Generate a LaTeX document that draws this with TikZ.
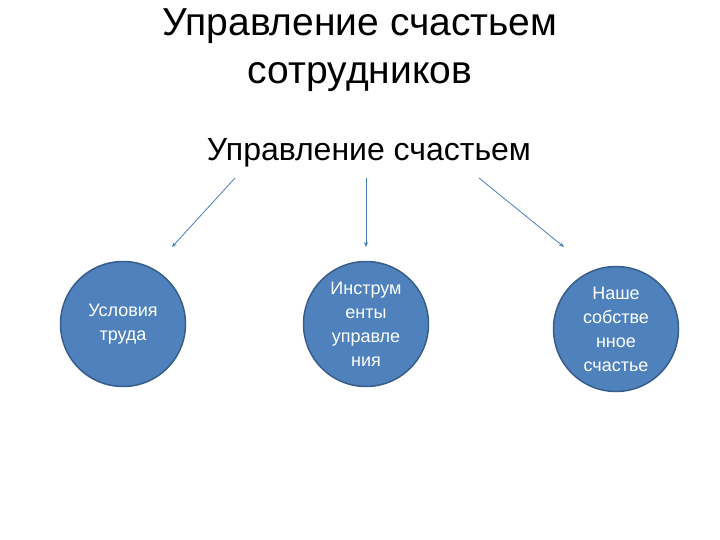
\documentclass[tikz,border=0pt]{standalone}
\usepackage{fontspec}
\setmainfont{Liberation Sans}
\usetikzlibrary{arrows.meta}

\definecolor{topicfill}{HTML}{4F81BD}
\definecolor{topicline}{HTML}{385D8A}
\definecolor{linkblue}{HTML}{4A7EBB}

\begin{document}
\begin{tikzpicture}[x=1pt,y=-1pt]
\useasboundingbox (0,0) rectangle (720,540);
\node (title) at (360,50) [align=center,font=\fontsize{39}{48}\selectfont]
    {Управление счастьем\\сотрудников};
\node (sub) at (369,153) [font=\fontsize{32}{38}\selectfont] {Управление счастьем};
\begin{scope}[every node/.style={circle,draw=topicline,fill=topicfill,line width=1.5pt,
              minimum size=125pt,inner sep=0pt,text=white,align=center,
              font=\fontsize{18}{24}\selectfont}]
    \node (t1) at (123,324) {Условия\\труда};
    \node (t2) at (366,324) {Инструм\\енты\\управле\\ния};
    \node (t3) at (616,329) {Наше\\собстве\\нное\\счастье};
\end{scope}
\coordinate (a1) at (235,178);
\coordinate (b1) at (172,247);
\coordinate (a2) at (366,178);
\coordinate (b2) at (366,247);
\coordinate (a3) at (479,178);
\coordinate (b3) at (564,247);
\begin{scope}[every edge/.style={draw=linkblue,line width=0.8pt,-{Stealth[length=5pt,width=4pt]}}]
    \path (a1) edge (b1);
    \path (a2) edge (b2);
    \path (a3) edge (b3);
\end{scope}
\end{tikzpicture}
\end{document}
